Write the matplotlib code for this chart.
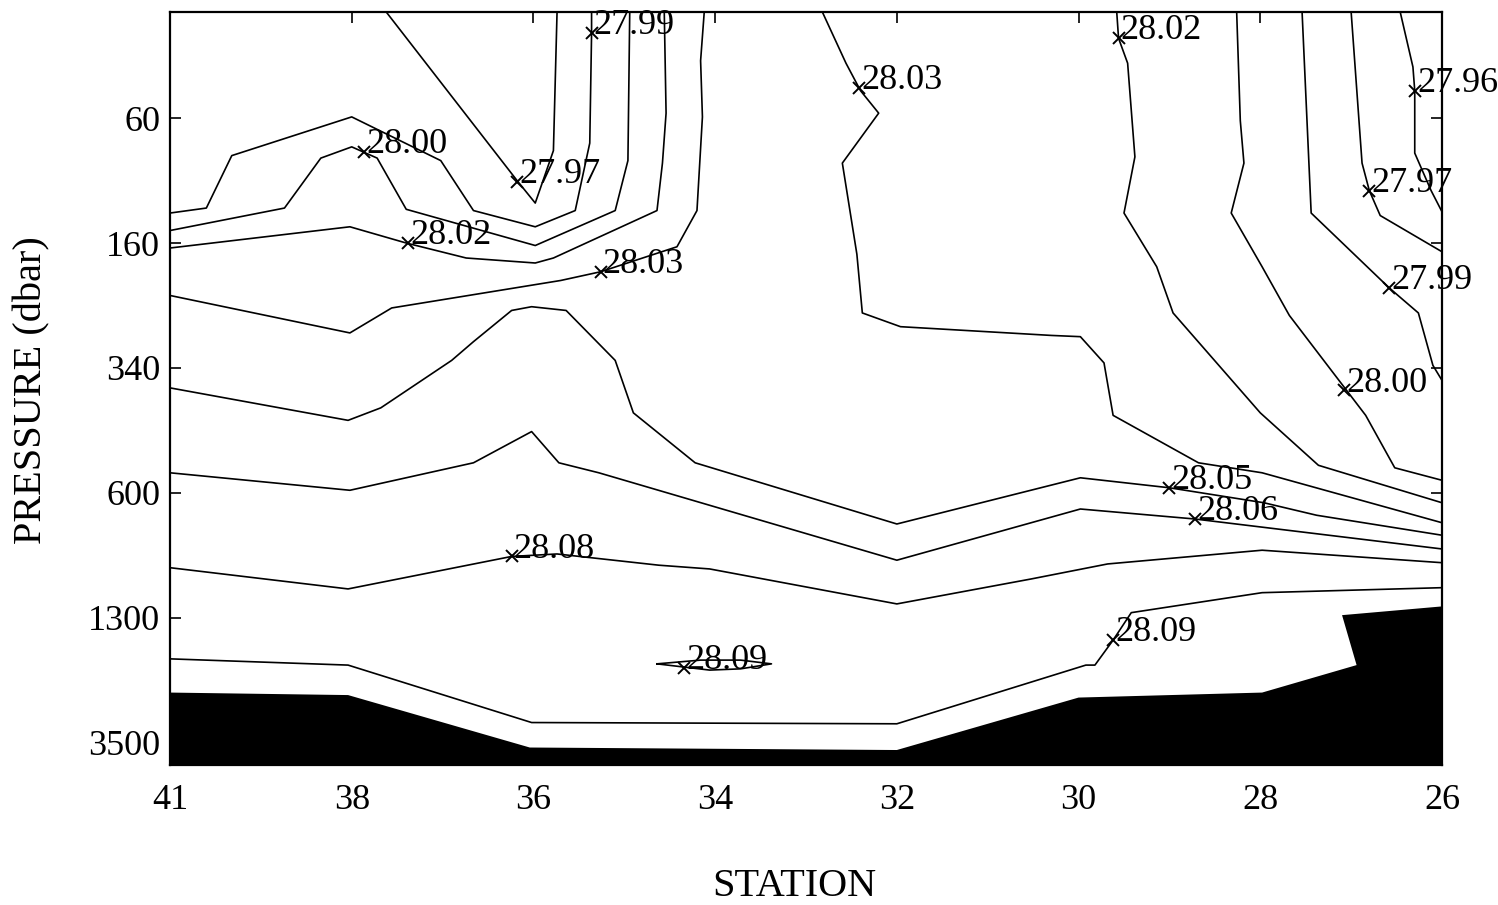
import matplotlib.pyplot as plt

plt.rcParams["font.family"] = ["Liberation Serif", "DejaVu Serif"]

# x: station axis position (ticks evenly spaced), y: pressure level index
stations = ["41", "38", "36", "34", "32", "30", "28", "26"]
pressures = ["60", "160", "340", "600", "1300", "3500"]

# contour lines (isopycnals), each as x / y lists
c2797a_x = [1.19, 1.91, 2.01, 2.11, 2.13]
c2797a_y = [0.15, 1.50, 1.68, 1.26, 0.15]

c2799a_x = [0.00, 0.20, 0.34, 1.00, 1.49, 1.67, 2.01, 2.23, 2.31, 2.32, 2.32]
c2799a_y = [1.76, 1.72, 1.30, 0.99, 1.34, 1.74, 1.87, 1.74, 1.20, 0.32, 0.15]

c2800a_x = [0.00, 0.63, 0.83, 1.00, 1.14, 1.30, 2.01, 2.45, 2.52, 2.53]
c2800a_y = [1.90, 1.72, 1.32, 1.23, 1.32, 1.73, 2.02, 1.74, 1.34, 0.15]

c2802a_x = [0.00, 0.99, 1.30, 1.63, 2.01, 2.11, 2.68, 2.71, 2.73, 2.72]
c2802a_y = [2.04, 1.87, 2.00, 2.12, 2.16, 2.12, 1.74, 1.36, 0.96, 0.15]

c2803a_x = [0.00, 0.99, 1.22, 2.15, 2.37, 2.79, 2.90, 2.93, 2.92, 2.94]
c2803a_y = [2.42, 2.72, 2.52, 2.30, 2.23, 2.03, 1.74, 0.99, 0.54, 0.15]

c2803b_x = [3.59, 3.72, 3.80, 3.90, 3.70, 3.78, 3.81, 4.02, 4.85, 5.01, 5.14, 5.19, 5.66, 6.01, 7.00]
c2803b_y = [0.15, 0.56, 0.78, 0.96, 1.36, 2.09, 2.56, 2.67, 2.74, 2.75, 2.96, 3.38, 3.76, 3.84, 4.24]

c2802b_x = [5.21, 5.22, 5.27, 5.31, 5.25, 5.43, 5.52, 6.00, 6.32, 7.00]
c2802b_y = [0.15, 0.36, 0.56, 1.31, 1.76, 2.19, 2.56, 3.36, 3.78, 4.08]

c2800b_x = [5.87, 5.89, 5.91, 5.84, 6.01, 6.16, 6.58, 6.74, 7.00]
c2800b_y = [0.15, 1.02, 1.36, 1.76, 2.19, 2.58, 3.38, 3.80, 3.90]

c2799b_x = [6.23, 6.28, 6.71, 6.87, 6.95, 7.00]
c2799b_y = [0.15, 1.76, 2.36, 2.56, 2.98, 3.10]

c2797b_x = [6.50, 6.56, 6.60, 6.66, 7.00]
c2797b_y = [0.15, 1.36, 1.58, 1.78, 2.07]

c2796_x = [6.77, 6.84, 6.85, 6.85, 6.94, 7.00]
c2796_y = [0.15, 0.59, 0.78, 1.28, 1.58, 1.75]

c2805_x = [0.00, 0.98, 1.16, 1.55, 1.67, 1.88, 1.99, 2.18, 2.45, 2.55, 2.89, 4.00, 5.01, 5.50, 6.02, 6.31, 7.00]
c2805_y = [3.16, 3.42, 3.32, 2.94, 2.79, 2.54, 2.51, 2.54, 2.94, 3.36, 3.76, 4.25, 3.88, 3.96, 4.08, 4.18, 4.34]

c2806_x = [0.00, 0.99, 1.67, 1.99, 2.14, 2.36, 4.00, 5.01, 5.64, 7.00]
c2806_y = [3.84, 3.98, 3.76, 3.51, 3.76, 3.84, 4.54, 4.13, 4.21, 4.45]

c2808_x = [0.00, 0.98, 1.88, 2.13, 2.69, 2.97, 4.00, 4.74, 5.16, 6.01, 7.00]
c2808_y = [4.60, 4.77, 4.51, 4.49, 4.58, 4.61, 4.89, 4.69, 4.57, 4.46, 4.56]

c2809_x = [0.00, 0.98, 1.99, 4.00, 5.04, 5.09, 5.19, 5.29, 6.01, 7.00]
c2809_y = [5.33, 5.38, 5.84, 5.85, 5.38, 5.38, 5.18, 4.96, 4.80, 4.76]

c2809s_x = [2.68, 2.92, 3.14, 3.31, 3.14, 2.97, 2.68]
c2809s_y = [5.37, 5.34, 5.34, 5.37, 5.41, 5.42, 5.37]

# sea floor
floor_x = [0.00, 0.98, 1.98, 4.00, 5.00, 6.01, 6.53, 6.45, 7.00, 7.00, 0.00]
floor_y = [5.60, 5.62, 6.04, 6.06, 5.64, 5.60, 5.38, 4.98, 4.91, 6.18, 6.18]

# contour labels: marker position and text
label_x = [1.07, 1.91, 2.32, 1.31, 2.37, 3.79, 5.22, 6.85, 6.60, 6.71, 6.46, 5.50, 5.64, 1.88, 2.83, 5.19]
label_y = [1.27, 1.51, 0.32, 2.00, 2.23, 0.76, 0.36, 0.78, 1.58, 2.36, 3.18, 3.96, 4.21, 4.51, 5.40, 5.18]
label_txt = ["28.00", "27.97", "27.99", "28.02", "28.03", "28.03", "28.02", "27.96",
             "27.97", "27.99", "28.00", "28.05", "28.06", "28.08", "28.09", "28.09"]

lines = [
    (c2797a_x, c2797a_y), (c2799a_x, c2799a_y), (c2800a_x, c2800a_y),
    (c2802a_x, c2802a_y), (c2803a_x, c2803a_y), (c2803b_x, c2803b_y),
    (c2802b_x, c2802b_y), (c2800b_x, c2800b_y), (c2799b_x, c2799b_y),
    (c2797b_x, c2797b_y), (c2796_x, c2796_y), (c2805_x, c2805_y),
    (c2806_x, c2806_y), (c2808_x, c2808_y), (c2809_x, c2809_y),
    (c2809s_x, c2809s_y),
]

fig = plt.figure(figsize=(14.98, 9.05), dpi=100)
ax = fig.add_axes([170 / 1498, 1 - 765 / 905, (1442 - 170) / 1498, (765 - 12) / 905])

for xs, ys in lines:
    ax.plot(xs, ys, color="black", lw=1.2)

ax.fill(floor_x, floor_y, color="black", lw=0)

ax.plot(label_x, label_y, "x", color="black", ms=8, mew=1.4)
for x, y, t in zip(label_x, label_y, label_txt):
    ax.text(x + 0.012, y + 0.01, t, fontsize=26, ha="left", va="baseline")

ax.set_xlim(0, 7)
ax.set_ylim(6.18, 0.15)
ax.set_xticks(range(len(stations)))
ax.set_xticklabels(stations)
ax.set_yticks(range(1, len(pressures) + 1))
ax.set_yticklabels(pressures)
ax.tick_params(direction="in", length=8, width=1.2, labelsize=26,
               top=True, right=True)
ax.tick_params(axis="x", pad=14)
ax.tick_params(axis="y", pad=7)
for s in ax.spines.values():
    s.set_linewidth(1.6)

fig.text(794 / 1498, 1 - 886 / 905, "STATION", fontsize=29, ha="center", va="center")
fig.text(32 / 1498, 1 - 390 / 905, "PRESSURE (dbar)", fontsize=29,
         ha="center", va="center", rotation=90)

fig.savefig("out.png", dpi=100)
